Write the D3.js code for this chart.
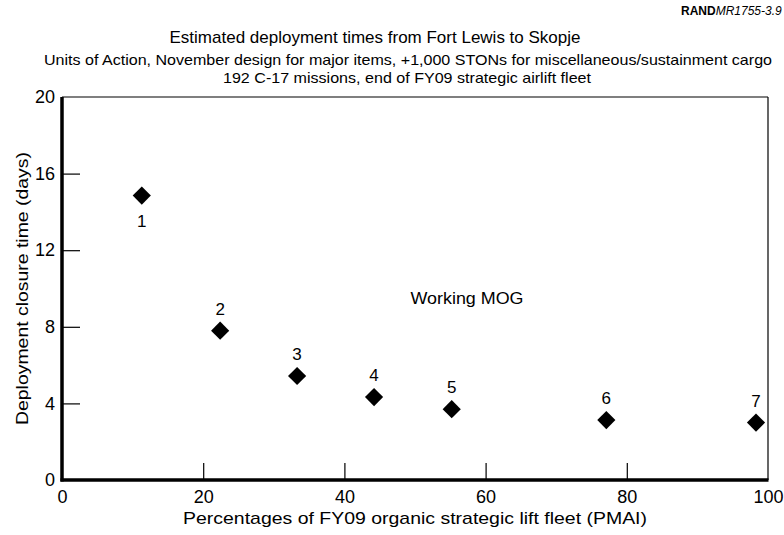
<!DOCTYPE html>
<html>
<head>
<meta charset="utf-8">
<script src="https://cdn.jsdelivr.net/npm/d3@7"></script>
<style>
  body { margin: 0; background: #fff; }
  text { font-family: "Liberation Sans", Arial, Helvetica, sans-serif; fill: #000; }
</style>
</head>
<body>
<svg id="chart"></svg>
<script>
// data
const labels = ['1', '2', '3', '4', '5', '6', '7']
const pctFleet = [11.3, 22.4, 33.3, 44.2, 55.2, 77.1, 98.3]
const closureDays = [14.85, 7.8, 5.43, 4.33, 3.7, 3.13, 3.0]
const xTicks = [0, 20, 40, 60, 80, 100]
const yTicks = [0, 4, 8, 12, 16, 20]

const width = 784, height = 535
const margin = {top: 97, right: 16, bottom: 55, left: 62}

const svg = d3.select('#chart').attr('width', width).attr('height', height)

const x = d3.scaleLinear().domain([0, 100]).range([margin.left, width - margin.right])
const y = d3.scaleLinear().domain([0, 20]).range([height - margin.bottom, margin.top])

// the source type runs a bit wider than Liberation Sans, so stretch some texts
function label(px, py, str, size, len) {
    const t = svg.append('text').attr('x', px).attr('y', py)
        .attr('text-anchor', 'middle').style('font-size', size + 'px').text(str)
    if (len) t.attr('textLength', len).attr('lengthAdjust', 'spacingAndGlyphs')
    return t
}

// header
const rand = svg.append('text').attr('x', 681).attr('y', 15).style('font-size', '12px')
rand.append('tspan').style('font-weight', 'bold').text('RAND')
rand.append('tspan').style('font-style', 'italic').text('MR1755-3.9')

label(375, 43, 'Estimated deployment times from Fort Lewis to Skopje', 17)
label(408, 65, 'Units of Action, November design for major items, +1,000 STONs for miscellaneous/sustainment cargo', 15, 728)
label(407, 83, '192 C-17 missions, end of FY09 strategic airlift fleet', 15, 368)

// frame: thin top/right, thick left/bottom
const x0 = x(0), x1 = x(100), y0 = y(0), y1 = y(20)
svg.append('line').attr('x1', x0).attr('x2', x1).attr('y1', y1).attr('y2', y1)
    .attr('stroke', '#000').attr('stroke-width', 1.2)
svg.append('line').attr('x1', x1).attr('x2', x1).attr('y1', y1).attr('y2', y0)
    .attr('stroke', '#000').attr('stroke-width', 1.2)

// axes with inward ticks
const xAxis = svg.append('g').attr('transform', `translate(0,${y0})`)
    .call(d3.axisBottom(x).tickValues(xTicks).tickSizeInner(-17).tickSizeOuter(0).tickPadding(10))
const yAxis = svg.append('g').attr('transform', `translate(${x0},0)`)
    .call(d3.axisLeft(y).tickValues(yTicks).tickSizeInner(-18).tickSizeOuter(0).tickPadding(7))

xAxis.select('.domain').remove()
yAxis.select('.domain').remove()
xAxis.selectAll('.tick line').attr('stroke-width', 1.2)
    .filter(d => d === 0 || d === 100).remove()
yAxis.selectAll('.tick line').attr('stroke-width', 1.2)
    .filter(d => d === 0 || d === 20).remove()
xAxis.selectAll('text').style('font-size', '18px').attr('fill', '#000')
yAxis.selectAll('text').style('font-size', '18px').attr('fill', '#000')

svg.append('line').attr('x1', x0).attr('x2', x0).attr('y1', y1).attr('y2', y0 + 1.5)
    .attr('stroke', '#000').attr('stroke-width', 3.5)
svg.append('line').attr('x1', x0 - 1.5).attr('x2', x1 + 0.5).attr('y1', y0).attr('y2', y0)
    .attr('stroke', '#000').attr('stroke-width', 3.5)

// axis titles
label(415, 524, 'Percentages of FY09 organic strategic lift fleet (PMAI)', 17, 464)
label(0, 0, 'Deployment closure time (days)', 17, 273)
    .attr('transform', `translate(28,${y(10)}) rotate(-90)`)

// points
const pts = labels.map((l, i) => ({label: l, px: pctFleet[i], days: closureDays[i]}))
const diamond = d3.symbol().type(d3.symbolSquare).size(165)

const g = svg.append('g')
g.selectAll('path').data(pts).enter().append('path')
    .attr('d', diamond)
    .attr('transform', d => `translate(${x(d.px)},${y(d.days)}) rotate(45)`)
    .attr('fill', '#000')

g.selectAll('text').data(pts).enter().append('text')
    .attr('x', d => x(d.px))
    .attr('y', (d, i) => i === 0 ? y(d.days) + 31 : y(d.days) - 16)
    .attr('text-anchor', 'middle').style('font-size', '17px')
    .text(d => d.label)

label(467, 304, 'Working MOG', 17, 113)
</script>
</body>
</html>
